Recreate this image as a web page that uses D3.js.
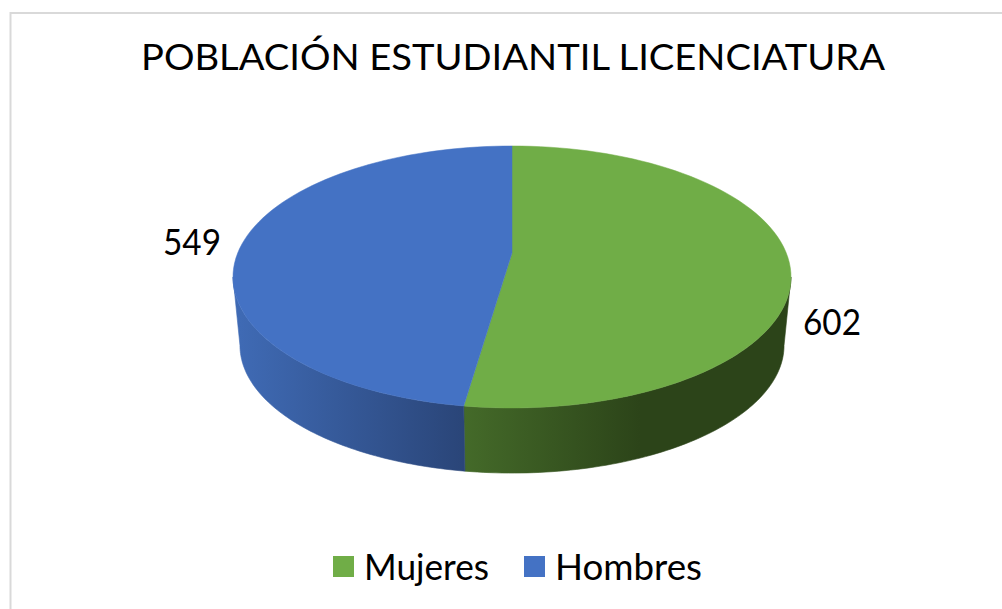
<!DOCTYPE html>
<html>
<head>
<meta charset="utf-8">
<style>
html, body {margin: 0; padding: 0; background: #fff;}
svg {display: block;}
text {font-family: Lato, "Open Sans", sans-serif; fill: #000;}
</style>
</head>
<body>
<script src="https://cdnjs.cloudflare.com/ajax/libs/d3/7.8.5/d3.min.js"></script>
<script>

var title = "POBLACIÓN ESTUDIANTIL LICENCIATURA";
var categories = ["Mujeres", "Hombres"];
var values = [602, 549];
var colors = ["#70ad47", "#4472c4"];
var wallStart = ["#446a29", "#3f6ab4"];
var wallEnd = ["#2c4419", "#2a4578"];

var width = 1002, height = 609;

var svg = d3.select("body").append("svg")
    .attr("width", width)
    .attr("height", height);

// chart frame, runs off the right side of the shot
svg.append("rect")
    .attr("x", 10.5)
    .attr("y", 13)
    .attr("width", 1100)
    .attr("height", 700)
    .attr("fill", "#fff")
    .attr("stroke", "#d9d9d9")
    .attr("stroke-width", 2);

svg.append("text")
    .attr("x", 141)
    .attr("y", 70)
    .attr("textLength", 744)
    .attr("lengthAdjust", "spacingAndGlyphs")
    .style("font-size", "36px")
    .text(title);

// perspective of the tilted disc: the pie centre sits above the ellipse centre
var tilt = 0.183;
var cx = 512;

function project(angle, scale, y0) {
    var d = 1 + tilt * Math.cos(angle);
    return [cx + 274.3 * scale * Math.sin(angle) / d,
            y0 - 126.6 * scale * Math.cos(angle) / d];
}

var topY = 253, bottomY = 322, bottomScale = 0.975;

function rim(a0, a1, scale, y0) {
    var n = 80;
    return d3.range(n + 1).map(function(i) {
        return project(a0 + (a1 - a0) * i / n, scale, y0);
    });
}

var line = d3.line();
var pie = d3.pie().sort(null);
var slices = pie(values);

// side limits of the disc outline on screen
var rightLimit = Math.acos(-tilt);
var leftLimit = 2 * Math.PI - rightLimit;

var defs = svg.append("defs");
var gradX = [[464, 640], [240, 464]];

slices.forEach(function(d, i) {
    var g = defs.append("linearGradient")
        .attr("id", "wall" + i)
        .attr("gradientUnits", "userSpaceOnUse")
        .attr("x1", gradX[i][0]).attr("y1", 0)
        .attr("x2", gradX[i][1]).attr("y2", 0);
    g.append("stop").attr("offset", 0).attr("stop-color", wallStart[i]);
    g.append("stop").attr("offset", 1).attr("stop-color", wallEnd[i]);
});

// walls first, only the part facing the viewer
// thin stroke in the same paint closes the seams between pieces
svg.selectAll(".wall")
    .data(slices)
    .enter().append("path")
    .attr("class", "wall")
    .attr("fill", function(d, i) { return "url(#wall" + i + ")"; })
    .attr("stroke", function(d, i) { return "url(#wall" + i + ")"; })
    .attr("stroke-width", 0.6)
    .attr("d", function(d) {
        var a0 = Math.max(d.startAngle, rightLimit);
        var a1 = Math.min(d.endAngle, leftLimit);
        var pts = rim(a0, a1, 1, topY).concat(rim(a1, a0, bottomScale, bottomY));
        return line(pts) + "Z";
    });

svg.selectAll(".slice")
    .data(slices)
    .enter().append("path")
    .attr("class", "slice")
    .attr("fill", function(d, i) { return colors[i]; })
    .attr("stroke", function(d, i) { return colors[i]; })
    .attr("stroke-width", 0.5)
    .attr("d", function(d) {
        var pts = [[cx, topY]].concat(rim(d.startAngle, d.endAngle, 1, topY));
        return line(pts) + "Z";
    });

// data labels
var labelPos = [[803, 335], [163, 255]];
svg.selectAll(".label")
    .data(values)
    .enter().append("text")
    .attr("class", "label")
    .attr("x", function(d, i) { return labelPos[i][0]; })
    .attr("y", function(d, i) { return labelPos[i][1]; })
    .attr("textLength", 58)
    .attr("lengthAdjust", "spacingAndGlyphs")
    .style("font-size", "36px")
    .text(function(d) { return d; });

// legend
var legendX = [333, 524];
var legendW = [125, 147];
var legend = svg.selectAll(".legend")
    .data(categories)
    .enter().append("g")
    .attr("class", "legend")
    .attr("transform", function(d, i) { return "translate(" + legendX[i] + ",556)"; });

legend.append("rect")
    .attr("width", 21)
    .attr("height", 21)
    .attr("fill", function(d, i) { return colors[i]; });

legend.append("text")
    .attr("x", 31)
    .attr("y", 24)
    .attr("textLength", function(d, i) { return legendW[i]; })
    .attr("lengthAdjust", "spacingAndGlyphs")
    .style("font-size", "36px")
    .text(function(d) { return d; });

</script>
</body>
</html>
